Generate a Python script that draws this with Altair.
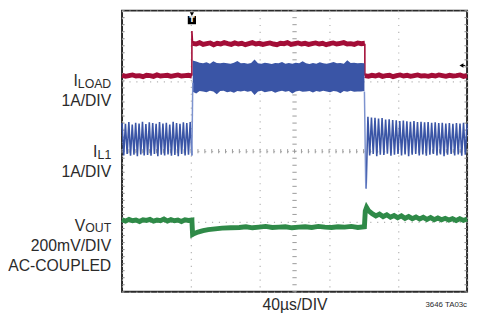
import altair as alt
import numpy as np
import pandas as pd

# ---------------- data (time in µs, amplitude in divisions 0..8) ----------------
RED_PRE = [6.16, 6.13, 6.15, 6.17, 6.14, 6.15, 6.12, 6.16, 6.15, 6.13, 6.17,
           6.14, 6.15, 6.16, 6.13, 6.15, 6.17, 6.14, 6.15, 6.16, 6.14]
RED_HIGH = [7.07, 7.05, 7.09, 7.04, 7.06, 7.08, 7.03, 7.07, 7.05, 7.09, 7.06,
            7.04, 7.08, 7.05, 7.07, 7.03, 7.06, 7.09, 7.05, 7.07, 7.04, 7.06,
            7.08, 7.05, 7.03, 7.07, 7.06, 7.09, 7.04, 7.06, 7.08, 7.05, 7.07,
            7.04, 7.06, 7.08, 7.05, 7.07, 7.03, 7.06, 7.08, 7.05, 7.07, 7.09,
            7.05, 7.06, 7.04, 7.08, 7.06, 7.07]
RED_POST = [6.15, 6.13, 6.16, 6.14, 6.17, 6.13, 6.15, 6.16, 6.12, 6.15, 6.17,
            6.14, 6.16, 6.13, 6.15, 6.17, 6.14, 6.15, 6.13, 6.16, 6.14, 6.17,
            6.15, 6.13, 6.16, 6.14, 6.15, 6.17, 6.13, 6.15]
RED_EDGE_UP_T = [81.0, 81.0, 81.8]
RED_EDGE_UP_V = [6.15, 7.42, 7.06]
RED_EDGE_DN_T = [281.5, 281.5]
RED_EDGE_DN_V = [7.06, 6.15]

BLUE_PRE = [4.80, 3.88, 4.78, 3.92, 4.83, 3.87, 4.76, 3.90, 4.81, 3.86, 4.79,
            3.91, 4.84, 3.88, 4.77, 3.89, 4.82, 3.87, 4.80, 3.92, 4.78, 3.86,
            4.83, 3.90, 4.79, 3.88, 4.81, 3.91, 4.76, 3.87, 4.84, 3.89, 4.80,
            3.86, 4.78, 3.92, 4.82, 3.88, 4.80, 3.90, 4.83, 3.88]
BAND_HI = [6.58, 6.55, 6.52, 6.50, 6.53, 6.49, 6.56, 6.51, 6.50, 6.52, 6.50,
           6.49, 6.52, 6.57, 6.50, 6.51, 6.49, 6.51, 6.61, 6.50, 6.49, 6.52,
           6.50, 6.48, 6.51, 6.50, 6.54, 6.49, 6.51, 6.49, 6.52, 6.50, 6.56,
           6.50, 6.48, 6.51, 6.49, 6.53, 6.50, 6.49, 6.51, 6.54, 6.50, 6.51,
           6.49, 6.59, 6.51, 6.52, 6.50, 6.51, 6.50]
BAND_LO = [5.69, 5.64, 5.71, 5.70, 5.68, 5.72, 5.70, 5.62, 5.71, 5.72, 5.68,
           5.70, 5.66, 5.71, 5.70, 5.72, 5.69, 5.71, 5.60, 5.70, 5.72, 5.68,
           5.70, 5.71, 5.66, 5.70, 5.72, 5.69, 5.71, 5.64, 5.70, 5.72, 5.69,
           5.70, 5.71, 5.67, 5.71, 5.69, 5.72, 5.70, 5.68, 5.71, 5.70, 5.65,
           5.71, 5.69, 5.72, 5.69, 5.70, 5.70, 5.71]
BLUE_POST = [2.94, 4.98, 3.88, 4.96, 3.92, 4.95, 3.86, 4.93, 3.90, 4.94, 3.89,
             4.90, 3.93, 4.91, 3.87, 4.89, 3.90, 4.88, 3.92, 4.86, 3.88, 4.87,
             3.91, 4.85, 3.86, 4.84, 3.90, 4.86, 3.92, 4.83, 3.88, 4.84, 3.91,
             4.82, 3.87, 4.83, 3.90, 4.81, 3.92, 4.82, 3.88, 4.80, 3.91, 4.81,
             3.86, 4.79, 3.90, 4.80, 3.92, 4.78, 3.88, 4.80, 3.91, 4.79, 3.87,
             4.81, 3.90, 4.78]
BLUE_EDGE_UP_T = [81.0, 82.0]
BLUE_EDGE_UP_V = [3.88, 5.95]
BLUE_EDGE_DN_T = [281.0, 282.5, 283.0]
BLUE_EDGE_DN_V = [5.70, 3.10, 2.94]

GREEN_PRE = [2.05, 2.01, 2.06, 2.02, 2.04, 2.00, 2.05, 2.03, 2.06, 2.01, 2.04,
             2.02, 2.07, 2.01, 2.05, 2.02, 2.04, 2.00, 2.05, 2.03, 2.04]
GREEN_DIP_T = [81.0, 81.8, 84, 88, 94, 100, 108, 116, 126, 136]
GREEN_DIP_V = [2.03, 1.63, 1.66, 1.70, 1.74, 1.77, 1.79, 1.81, 1.82, 1.83]
GREEN_MID = [1.83, 1.85, 1.82, 1.84, 1.86, 1.83, 1.84, 1.85, 1.82, 1.84, 1.85,
             1.83, 1.86, 1.84, 1.83, 1.85, 1.84, 1.86, 1.83, 1.85]
GREEN_JUMP_T = [281.0, 282.0, 283.5, 286.0, 290.0]
GREEN_JUMP_V = [1.85, 2.30, 2.40, 2.30, 2.22]
GREEN_POST = [2.22, 2.16, 2.21, 2.14, 2.19, 2.12, 2.17, 2.11, 2.16, 2.09, 2.14,
              2.08, 2.13, 2.07, 2.12, 2.06, 2.11, 2.05, 2.10, 2.05, 2.09, 2.04,
              2.08, 2.03, 2.08, 2.03, 2.07]

GRID_T = [0, 40, 80, 120, 160, 200, 240, 280, 320, 360, 400]
GRID_V = [0, 1, 2, 3, 4, 5, 6, 7, 8]

RED = "#a30d37"
BLUE = "#3a55a6"
BLUE_EDGE = "#7d93cf"
GREEN = "#2f8a48"
TXT = "#2b2b2b"
FONT = "Liberation Sans, Arial, sans-serif"

# ---------------- build tables ----------------
def seg(name, t, v):
    return pd.DataFrame({"t": list(t), "v": list(v), "seg": name, "o": range(len(v))})

red_plateau = pd.concat([
    seg("r1", np.linspace(0, 81, len(RED_PRE)), RED_PRE),
    seg("r2", np.linspace(81.8, 281.5, len(RED_HIGH)), RED_HIGH),
    seg("r3", np.linspace(281.5, 400, len(RED_POST)), RED_POST),
])
red_edges = pd.concat([
    seg("e1", RED_EDGE_UP_T, RED_EDGE_UP_V),
    seg("e2", RED_EDGE_DN_T, RED_EDGE_DN_V),
])
blue_zig = pd.concat([
    seg("b1", np.linspace(0, 81, len(BLUE_PRE)), BLUE_PRE),
    seg("b2", np.linspace(283, 400, len(BLUE_POST)), BLUE_POST),
])
blue_edges = pd.concat([
    seg("e1", BLUE_EDGE_UP_T, BLUE_EDGE_UP_V),
    seg("e2", BLUE_EDGE_DN_T, BLUE_EDGE_DN_V),
])
band = pd.DataFrame({"t": np.linspace(82, 281, len(BAND_HI)), "lo": BAND_LO, "hi": BAND_HI})
green = pd.concat([
    seg("g1", np.linspace(0, 81, len(GREEN_PRE)), GREEN_PRE),
    seg("g2", GREEN_DIP_T, GREEN_DIP_V),
    seg("g3", np.linspace(136, 281, len(GREEN_MID)), GREEN_MID),
    seg("g4", GREEN_JUMP_T, GREEN_JUMP_V),
    seg("g5", np.linspace(290, 400, len(GREEN_POST)), GREEN_POST),
])
green["o"] = range(len(green))

XS = alt.Scale(domain=[0, 400], nice=False, zero=False)
YS = alt.Scale(domain=[0, 8], nice=False, zero=False)
XAX = alt.Axis(values=GRID_T, grid=True, labels=False, ticks=False, domain=False,
               title=None, gridDash=[1.2, 5.8], gridColor="#b5b5b5", gridWidth=1.2)
YAX = alt.Axis(values=GRID_V, grid=True, labels=False, ticks=False, domain=False,
               title=None, gridDash=[1.2, 5.8], gridColor="#b5b5b5", gridWidth=1.2)

def X(f="t"):
    return alt.X(f"{f}:Q", scale=XS, axis=XAX)

def Y(f="v"):
    return alt.Y(f"{f}:Q", scale=YS, axis=YAX)

# center cross ticks
tick_t = pd.DataFrame({"t": list(range(0, 401, 8))})
tick_v = pd.DataFrame({"v": [i / 5 for i in range(41)]})
hticks = alt.Chart(tick_t).mark_rule(color="#9a9a9a", strokeWidth=1).encode(
    x=X(), y=alt.datum(3.94), y2=alt.datum(4.06))
vticks = alt.Chart(tick_v).mark_rule(color="#9a9a9a", strokeWidth=1).encode(
    y=Y(), x=alt.datum(197.5), x2=alt.datum(202.5))
lticks = alt.Chart(tick_v).mark_rule(color="#8a8a8a", strokeWidth=1).encode(
    y=Y(), x=alt.datum(0), x2=alt.datum(3))
rticks = alt.Chart(tick_v).mark_rule(color="#8a8a8a", strokeWidth=1).encode(
    y=Y(), x=alt.datum(397), x2=alt.datum(400))

red_l = alt.Chart(red_plateau).mark_line(color=RED, strokeWidth=5).encode(
    x=X(), y=Y(), detail="seg:N", order="o:Q")
red_e = alt.Chart(red_edges).mark_line(color=RED, strokeWidth=1.6).encode(
    x=X(), y=Y(), detail="seg:N", order="o:Q")
blue_z = alt.Chart(blue_zig).mark_line(color=BLUE, strokeWidth=1.6).encode(
    x=X(), y=Y(), detail="seg:N", order="o:Q")
blue_e = alt.Chart(blue_edges).mark_line(color=BLUE_EDGE, strokeWidth=1.5).encode(
    x=X(), y=Y(), detail="seg:N", order="o:Q")
blue_b = alt.Chart(band).mark_area(color=BLUE, interpolate="linear").encode(
    x=X(), y=Y("lo"), y2="hi:Q")
green_l = alt.Chart(green).mark_line(color=GREEN, strokeWidth=5).encode(
    x=X(), y=Y(), order="o:Q")

one = pd.DataFrame({"a": [0]})
trig_tri = alt.Chart(one).mark_point(shape="triangle-down", filled=True, color="black",
                                     size=18, opacity=1).encode(
    x=alt.datum(81), y=alt.datum(7.9))
trig_box = alt.Chart(one).mark_square(color="black", size=70, opacity=1).encode(
    x=alt.datum(81), y=alt.datum(7.73))
trig_t = alt.Chart(one).mark_text(text="T", color="white", fontSize=8, fontWeight="bold",
                                  font="DejaVu Sans", baseline="middle").encode(
    x=alt.datum(81), y=alt.datum(7.73))
arrow = alt.Chart(one).mark_point(shape="triangle-left", filled=True, color="black",
                                  size=22, opacity=1).encode(
    x=alt.datum(393.5), y=alt.datum(6.44))
arrow_line = alt.Chart(one).mark_rule(color="black", strokeWidth=1).encode(
    x=alt.datum(393.5), x2=alt.datum(398), y=alt.datum(6.44))


def label(text, x, y, size=16, align="right"):
    return alt.Chart(one).mark_text(text=text, font=FONT, fontSize=size, color=TXT,
                                    align=align, baseline="alphabetic").encode(
        x=alt.value(x), y=alt.value(y))


labels = [
    label("I", -45, 77), label("LOAD", -11, 79, 12.5), label("1A/DIV", -11, 97),
    label("I", -25, 149), label("L1", -11, 151, 12.5), label("1A/DIV", -11, 169),
    label("V", -37.5, 224), label("OUT", -11, 225, 12.5),
    label("200mV/DIV", -11, 245), label("AC-COUPLED", -11, 265),
    label("40µs/DIV", 176, 305, 16, "center"),
    label("3646 TA03c", 351, 302, 8),
]

chart = alt.layer(
    hticks, vticks, lticks, rticks,
    red_l, red_e, blue_b, blue_z, blue_e, green_l,
    trig_tri, trig_box, trig_t, arrow, arrow_line,
    *labels,
).properties(
    width=351, height=286,
    padding={"left": 116, "top": 0, "right": 4, "bottom": 23},
    autosize=alt.AutoSizeParams(type="none"),
).configure_view(stroke="#2a2a2a", strokeWidth=2)

chart.save("out.html", embed_options={"renderer": "svg", "actions": False})
